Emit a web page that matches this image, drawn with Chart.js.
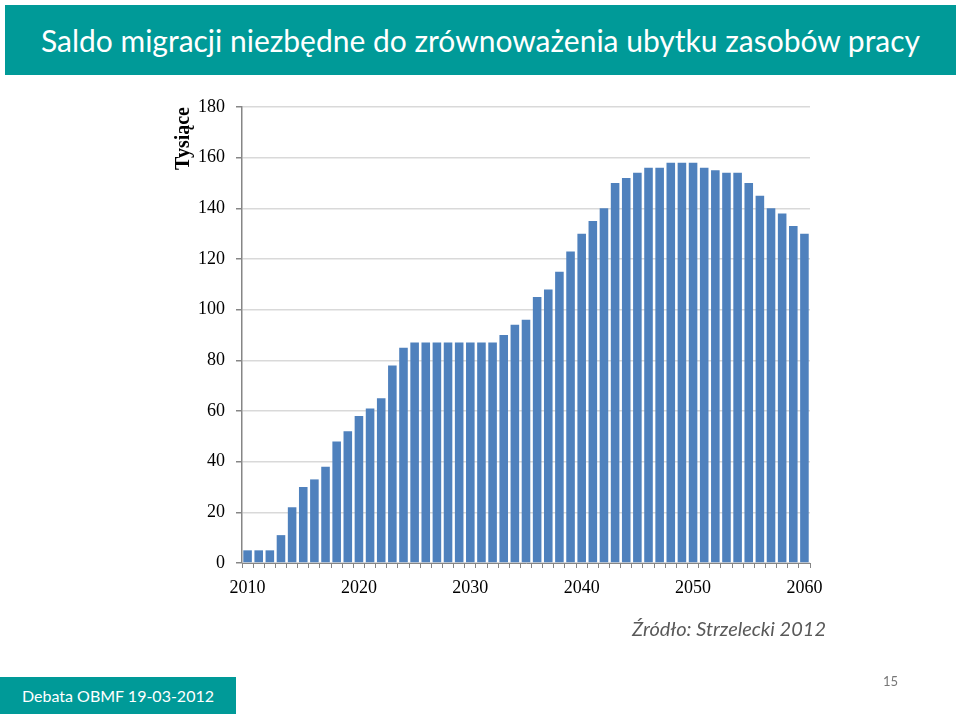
<!DOCTYPE html>
<html>
<head>
<meta charset="utf-8">
<script src="https://cdn.jsdelivr.net/npm/chart.js@4"></script>
<style>
  body { margin: 0; width: 960px; height: 716px; background: #fff; position: relative; overflow: hidden; }
  #banner {
    position: absolute; left: 5px; top: 5px; width: 951px; height: 70px;
    background: #009a98; color: #fff; font-family: Lato, sans-serif; font-size: 30px;
    display: flex; align-items: center; justify-content: center;
  }
  #chartBox { position: absolute; left: 0; top: 0; width: 960px; height: 716px; }
  #source {
    position: absolute; right: 134px; top: 616px; font-family: Lato, sans-serif; font-style: italic;
    font-size: 20px; color: #595959;
  }
  #footer {
    position: absolute; left: 0; top: 677px; width: 236px; height: 37px; background: #009a98;
    color: #fff; font-family: Lato, sans-serif; font-size: 16px; line-height: 37px; text-align: center;
  }
  #page { position: absolute; left: 883px; top: 673px; font-family: Lato, sans-serif; font-size: 13px; color: #777; }
</style>
</head>
<body>
<div id="chartBox"><canvas id="chart"></canvas></div>
<div id="banner">Saldo migracji niezbędne do zrównoważenia ubytku zasobów pracy</div>
<div id="source">Źródło: Strzelecki 2012</div>
<div id="footer">Debata OBMF 19-03-2012</div>
<div id="page">15</div>
<script>
document.addEventListener("DOMContentLoaded", function () {
    // years 2010..2060
    const years = [];
    for (let y = 2010; y <= 2060; y++) years.push(String(y));

    // migration balance, thousands
    const saldo = [
        5, 5, 5, 11, 22, 30, 33, 38, 48, 52,
        58, 61, 65, 78, 85, 87, 87, 87, 87, 87,
        87, 87, 87, 90, 94, 96, 105, 108, 115, 123,
        130, 135, 140, 150, 152, 154, 156, 156, 158, 158,
        158, 156, 155, 154, 154, 150, 145, 140, 138, 133,
        130
    ];
    const yTicks = [0, 20, 40, 60, 80, 100, 120, 140, 160, 180];

    const serif = "'Liberation Serif', 'Times New Roman', serif";
    const ctx = document.querySelector("#chart").getContext("2d");

    new Chart(ctx, {
        type: 'bar',
        data: {
            labels: years,
            datasets: [{
                label: 'Saldo migracji',
                data: saldo,
                backgroundColor: '#4f81bd',
                borderWidth: 0,
                barPercentage: 0.77,
                categoryPercentage: 1.0
            }]
        },
        options: {
            responsive: true,
            maintainAspectRatio: false,
            animation: false,
            layout: { padding: { left: 172, right: 150, top: 107, bottom: 113 } },
            plugins: {
                legend: { display: false },
                tooltip: { enabled: false }
            },
            scales: {
                x: {
                    grid: {
                        drawOnChartArea: false,
                        drawTicks: true,
                        tickLength: 5,
                        tickColor: '#868686'
                    },
                    border: { color: '#868686', width: 1 },
                    afterFit: function (scale) { scale.height = 40; },
                    ticks: {
                        autoSkip: false,
                        maxRotation: 0,
                        padding: 9,
                        color: '#000',
                        font: { family: serif, size: 18 },
                        callback: function (val, i) {
                            return i % 10 === 0 ? years[i] : '';
                        }
                    }
                },
                y: {
                    min: 0,
                    max: 180,
                    afterFit: function (scale) { scale.width = 70; },
                    afterBuildTicks: function (scale) {
                        scale.ticks = yTicks.map(v => ({ value: v }));
                    },
                    grid: {
                        color: '#d9d9d9',
                        lineWidth: 1.5,
                        tickColor: '#868686',
                        tickLength: 6
                    },
                    border: { color: '#868686', width: 1.5 },
                    ticks: {
                        padding: 11,
                        color: '#000',
                        font: { family: serif, size: 18 }
                    },
                    title: {
                        display: true,
                        text: 'Tysiące',
                        align: 'end',
                        color: '#000',
                        padding: { top: 0, bottom: 0 },
                        font: { family: serif, size: 20, weight: 'bold' }
                    }
                }
            }
        }
    });
});
</script>
</body>
</html>
